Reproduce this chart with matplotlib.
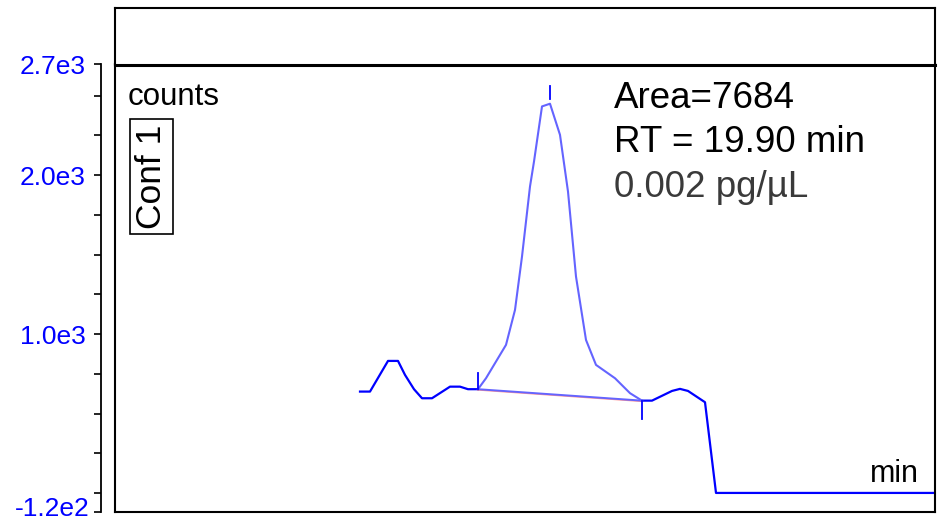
import numpy as np
import matplotlib
matplotlib.use('Agg')
import matplotlib.pyplot as plt
from matplotlib.ticker import FixedLocator

plt.rcParams['font.family'] = ['Liberation Sans', 'DejaVu Sans']

# chromatogram trace (retention time in min, counts)
rt_min = [18.95, 19.00, 19.09, 19.14, 19.175, 19.22, 19.26, 19.31, 19.40, 19.45,
          19.49, 19.54, 19.58, 19.68, 19.725, 19.76, 19.80, 19.82, 19.86, 19.90,
          19.95, 19.99, 20.03, 20.08, 20.13, 20.225, 20.30, 20.36, 20.41, 20.51,
          20.55, 20.59, 20.675, 20.73, 21.825]
counts = [638, 638, 831, 831, 743, 653, 596, 596, 669, 669,
          653, 653, 722, 932, 1152, 1488, 1929, 2086, 2433, 2450,
          2254, 1897, 1362, 963, 806, 722, 628, 581, 581, 642,
          655, 642, 571, 0, 0]

peak_start = 19.54
peak_apex = 19.90
peak_end = 20.36

ytick_major = [2700, 2000, 1000, -120]
ytick_labels = ['2.7e3', '2.0e3', '1.0e3', '-1.2e2']
ytick_minor = [2500, 2250, 1750, 1500, 1250, 750, 500, 250, 0]

peak_text = ['Area=7684', 'RT = 19.90 min', '0.002 pg/\u00b5L']

rt = np.array(rt_min)
cn = np.array(counts)

W, H = 938, 520
fig = plt.figure(figsize=(W / 100, H / 100), dpi=100)
ax = fig.add_axes([115 / W, 1 - 512 / H, 820 / W, 448 / H])
ax_top = fig.add_axes([115 / W, 1 - 65 / H, 820 / W, 57 / H])

blue = '#0000ff'
light = '#6464ff'

# trace outside the integrated peak
left = rt <= peak_start
right = rt >= peak_end
mid = (rt >= peak_start) & (rt <= peak_end)
ax.plot(rt[left], cn[left], color=blue, lw=1.6)
ax.plot(rt[right], cn[right], color=blue, lw=1.6)
ax.plot(rt[mid], cn[mid], color=light, lw=1.5)

# baseline of the integration
c0 = cn[rt == peak_start][0]
c1 = cn[rt == peak_end][0]
ax.plot([peak_start, peak_end], [c0 - 4, c1 - 4], color='#ff6666', lw=1.2, alpha=0.7)
ax.plot([peak_start, peak_end], [c0, c1], color=light, lw=1.4)

# peak markers
ax.plot([peak_start, peak_start], [c0, c0 + 100], color=blue, lw=1.3)
ax.plot([peak_end, peak_end], [c1, c1 - 115], color=blue, lw=1.3)
top = cn[rt == peak_apex][0]
ax.plot([peak_apex, peak_apex], [top + 30, top + 110], color=blue, lw=1.3)

ax.set_xlim(17.725, 21.825)
ax.set_ylim(-120, 2700)
ax.set_xticks([])
ax.yaxis.set_major_locator(FixedLocator(ytick_major))
# last label is drawn by hand, nudged up so it stays inside the figure
ax.set_yticklabels(ytick_labels[:-1] + [''])
ax.yaxis.set_minor_locator(FixedLocator(ytick_minor))
ax.tick_params(axis='y', which='both', direction='out', length=5, width=1.2,
               colors='black', labelcolor=blue, labelsize=19, pad=6)
ax.annotate(ytick_labels[-1], xy=(0, ytick_major[-1]), xycoords=('axes fraction', 'data'),
            xytext=(-7.2 - 5 - 6, 2.5), textcoords='offset points',
            ha='right', va='center', fontsize=19, color=blue)
ax.spines['left'].set_position(('outward', 10))
ax.spines['left'].set_linewidth(1.3)
for s in ['top', 'right', 'bottom']:
    ax.spines[s].set_linewidth(1.5)
ax.plot([0, 0], [0, 1], transform=ax.transAxes, color='black', lw=1.5, clip_on=False)

ax_top.set_xticks([])
ax_top.set_yticks([])
for s in ax_top.spines.values():
    s.set_linewidth(1.5)
ax_top.spines['bottom'].set_linewidth(2.2)

ax.text(0.0159, 0.9085, 'counts', transform=ax.transAxes, fontsize=22.5, va='baseline')
ax.text(0.0445, 0.748, 'Conf 1', transform=ax.transAxes, fontsize=25.5, rotation=90,
        ha='center', va='center',
        bbox=dict(boxstyle='square,pad=0.15', fc='white', ec='black', lw=1.2))
ax.text(0.6085, 0.9018, peak_text[0], transform=ax.transAxes, fontsize=26.5, va='baseline')
ax.text(0.6085, 0.8036, peak_text[1], transform=ax.transAxes, fontsize=26.5, va='baseline')
ax.text(0.6085, 0.7031, peak_text[2], transform=ax.transAxes, fontsize=26.5, va='baseline',
        color='#3a3a3a')
ax.text(0.9805, 0.0670, 'min', transform=ax.transAxes, fontsize=22, va='baseline', ha='right')

fig.savefig('out.png', dpi=100)
